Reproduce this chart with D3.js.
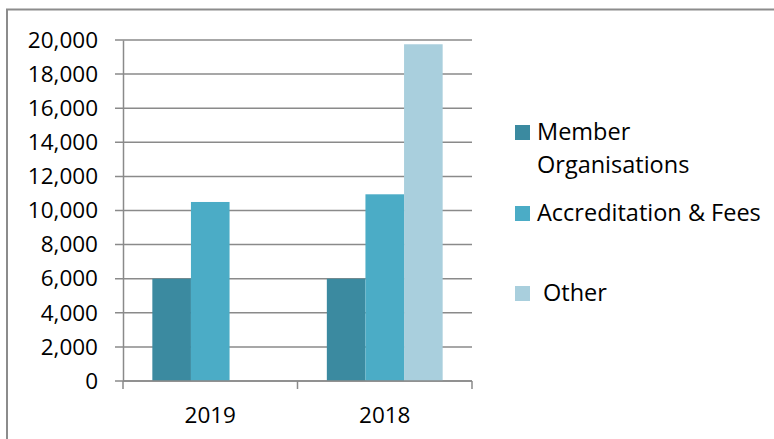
<!DOCTYPE html>
<html lang="en">
<head>
<meta charset="utf-8">
<title>Income chart</title>
<script src="https://cdn.jsdelivr.net/npm/d3@7"></script>
<style>
  body { margin: 0; background: #fff; }
  text { font-family: "Open Sans", sans-serif; fill: #000; }
</style>
</head>
<body>
<script>
  // data
  var years = ["2019", "2018"];
  var seriesNames = ["Member Organisations", "Accreditation & Fees", "Other"];
  var memberOrgs = [6000, 6000];
  var accreditation = [10500, 10950];
  var other = [0, 19750];
  var yTicks = [0, 2000, 4000, 6000, 8000, 10000, 12000, 14000, 16000, 18000, 20000];
  var colors = ["#3b8aa0", "#4bacc6", "#a9cfdd"];

  var allSeries = [memberOrgs, accreditation, other];

  var width = 774, height = 439;
  var svg = d3.select("body").append("svg")
    .attr("width", width)
    .attr("height", height);

  // outer frame
  svg.append("rect")
    .attr("x", 7).attr("y", 9.5)
    .attr("width", 800).attr("height", 500)
    .attr("fill", "none")
    .attr("stroke", "#8c8c8c")
    .attr("stroke-width", 2);

  var plotLeft = 123, plotRight = 472, plotTop = 40, plotBottom = 381;

  var x0 = d3.scaleBand().domain(years).range([plotLeft, plotRight]);
  var x1 = d3.scaleBand().domain(d3.range(seriesNames.length))
    .range([0, x0.bandwidth()]).paddingOuter(0.76);
  var y = d3.scaleLinear().domain([0, 20000]).range([plotBottom, plotTop]);

  // gridlines
  svg.append("g").selectAll("line")
    .data(yTicks)
    .enter().append("line")
    .attr("x1", plotLeft - 8).attr("x2", plotRight)
    .attr("y1", function (d) { return y(d); })
    .attr("y2", function (d) { return y(d); })
    .attr("stroke", "#8a8a8a")
    .attr("stroke-width", 1.5);

  // bars
  var groups = svg.append("g").selectAll("g")
    .data(years)
    .enter().append("g")
    .attr("transform", function (d) { return "translate(" + x0(d) + ",0)"; });

  groups.selectAll("rect")
    .data(function (d, i) {
      return allSeries.map(function (s, k) { return { k: k, v: s[i] }; });
    })
    .enter().append("rect")
    .attr("x", function (d) { return x1(d.k); })
    .attr("width", x1.bandwidth())
    .attr("y", function (d) { return y(d.v); })
    .attr("height", function (d) { return y(0) - y(d.v); })
    .attr("fill", function (d) { return colors[d.k]; });

  // y axis
  var yAxis = d3.axisLeft(y).tickValues(yTicks).tickSize(0).tickPadding(25)
    .tickFormat(d3.format(","));
  var yg = svg.append("g").attr("transform", "translate(" + plotLeft + ",0)").call(yAxis);
  yg.select(".domain").attr("stroke", "#8a8a8a").attr("stroke-width", 1.5);
  yg.selectAll("text").attr("font-size", 22.5).attr("font-family", "Open Sans").attr("fill", "#000");

  // x axis
  var xAxis = d3.axisBottom(x0).tickSize(0).tickPadding(26);
  var xg = svg.append("g").attr("transform", "translate(0," + plotBottom + ")").call(xAxis);
  xg.select(".domain").remove();
  xg.append("line").attr("x1", plotLeft).attr("x2", plotRight).attr("y1", 0).attr("y2", 0)
    .attr("stroke", "#8a8a8a").attr("stroke-width", 1.5);
  xg.selectAll("line.sep")
    .data([plotLeft, x0("2018"), plotRight])
    .enter().append("line").attr("class", "sep")
    .attr("x1", function (d) { return d; }).attr("x2", function (d) { return d; })
    .attr("y1", 0).attr("y2", 8)
    .attr("stroke", "#8a8a8a").attr("stroke-width", 1.5);
  xg.selectAll("text").attr("font-size", 22.5).attr("font-family", "Open Sans").attr("fill", "#000");

  // legend
  var legendItems = [
    { lines: ["Member", "Organisations"], y: 125, tx: 537 },
    { lines: ["Accreditation & Fees"], y: 206, tx: 537 },
    { lines: ["Other"], y: 286, tx: 543 }
  ];
  var lg = svg.append("g").selectAll("g")
    .data(legendItems)
    .enter().append("g");
  lg.append("rect")
    .attr("x", 515).attr("y", function (d) { return d.y; })
    .attr("width", 15).attr("height", 15)
    .attr("fill", function (d, i) { return colors[i]; });
  lg.each(function (d) {
    var g = d3.select(this);
    d.lines.forEach(function (t, j) {
      g.append("text")
        .attr("x", d.tx).attr("y", d.y + 15 + j * 33)
        .attr("font-size", 23.5)
        .text(t);
    });
  });
</script>
</body>
</html>
